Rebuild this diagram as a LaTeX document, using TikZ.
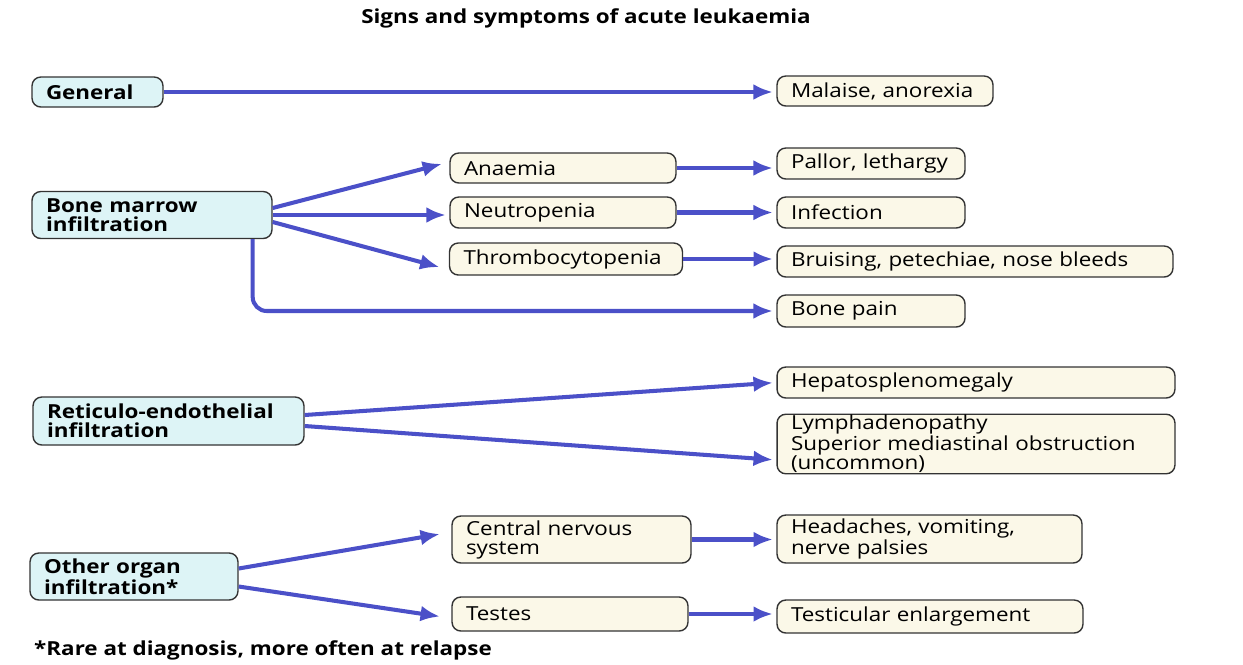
\documentclass[tikz,border=0pt]{standalone}
\usepackage{fontspec}
\setmainfont[FakeStretch=1.16]{Open Sans}
\usepackage{xcolor}
\usetikzlibrary{arrows.meta, calc, positioning}
\definecolor{arrowblue}{HTML}{4B50C8}
\definecolor{causefill}{HTML}{DDF4F6}
\definecolor{findfill}{HTML}{FBF8E8}
\definecolor{boxline}{HTML}{333333}
\newcommand{\boxfont}{\fontsize{11}{10.8}\selectfont}
\tikzset{
  cause/.style={
    rectangle, rounded corners=5pt, draw=boxline, line width=0.8pt,
    fill=causefill, align=left, inner xsep=0.28cm, inner ysep=2pt,
    font=\boxfont\bfseries
  },
  finding/.style={
    rectangle, rounded corners=5pt, draw=boxline, line width=0.8pt,
    fill=findfill, align=left, inner xsep=0.28cm, inner ysep=2pt,
    font=\boxfont
  },
  arrow/.style={
    -{Latex[length=11pt,width=9pt]}, line width=2.3pt, color=arrowblue, shorten >=2pt
  }
}

\begin{document}
\begin{tikzpicture}[x=0.02cm, y=-0.02cm]
\useasboundingbox (0,0) rectangle (1243,664);

% Titre
\node[font=\boxfont\bfseries] (title) at (586,18) {Signs and symptoms of acute leukaemia};

% Causes
\node[cause, text width=2.06cm, minimum height=0.6cm] (general) at (97.5,92) {General};
\node[cause, text width=4.24cm, minimum height=0.94cm] (marrow) at (152,215) {Bone marrow\\infiltration};
\node[cause, text width=4.86cm, minimum height=0.96cm] (reticulo) at (168.5,421) {Reticulo-endothelial\\infiltration};
\node[cause, text width=3.6cm, minimum height=0.94cm] (organ) at (134,576.5) {Other organ\\infiltration*};

% Etapes intermediaires
\node[finding, text width=3.96cm, minimum height=0.6cm] (anaemia) at (563,168) {Anaemia};
\node[finding, text width=3.96cm, minimum height=0.62cm] (neutro) at (563,212.5) {Neutropenia};
\node[finding, text width=4.1cm, minimum height=0.64cm] (thrombo) at (566,259) {Thrombocytopenia};
\node[finding, text width=4.22cm, minimum height=0.94cm] (cns) at (571.5,539.5) {Central nervous\\system};
\node[finding, text width=4.16cm, minimum height=0.68cm] (testes) at (570,614) {Testes};

% Signes
\node[finding, text width=3.76cm, minimum height=0.6cm] (malaise) at (885,91) {Malaise, anorexia};
\node[finding, text width=3.2cm, minimum height=0.62cm] (pallor) at (871,163.5) {Pallor, lethargy};
\node[finding, text width=3.2cm, minimum height=0.62cm] (infection) at (871,212.5) {Infection};
\node[finding, text width=7.36cm, minimum height=0.62cm] (bruising) at (975,261.5) {Bruising, petechiae, nose bleeds};
\node[finding, text width=3.2cm, minimum height=0.64cm] (bonepain) at (871,311) {Bone pain};
\node[finding, text width=7.4cm, minimum height=0.62cm] (hepato) at (976,382.5) {Hepatosplenomegaly};
\node[finding, text width=7.4cm, minimum height=1.16cm, inner ysep=0.5pt] (lymph) at (976,444) {Lymphadenopathy\\Superior mediastinal obstruction\\(uncommon)};
\node[finding, text width=5.54cm, minimum height=0.96cm] (headaches) at (929.5,539) {Headaches, vomiting,\\nerve palsies};
\node[finding, text width=5.56cm, minimum height=0.66cm] (testicular) at (930,616.5) {Testicular enlargement};

% Note
\node[font=\boxfont\bfseries, anchor=west] (note) at (28,650) {*Rare at diagnosis, more often at relapse};

% Fleches
\draw[arrow] (general.east) -- (general.east -| malaise.west);
\draw[arrow] ($(marrow.east)+(0,-7)$) -- ($(anaemia.west)+(-4,-5)$);
\draw[arrow] (marrow.east) -- (marrow.east -| neutro.west);
\draw[arrow] ($(marrow.east)+(0,7)$) -- ($(thrombo.west)+(-6,9)$);
\draw[arrow, rounded corners=8pt] ($(marrow.south east)+(-20,0)$) |- (bonepain.west);
\draw[arrow] (anaemia.east) -- (anaemia.east -| pallor.west);
\draw[arrow] (neutro.east) -- (neutro.east -| infection.west);
\draw[arrow] (thrombo.east) -- (thrombo.east -| bruising.west);
\draw[arrow] ($(reticulo.east)+(0,-6)$) -- (hepato.west);
\draw[arrow] ($(reticulo.east)+(0,5)$) -- ($(lymph.west)+(0,16)$);
\draw[arrow] ($(organ.east)+(0,-8)$) -- ($(cns.west)+(-8,-6)$);
\draw[arrow] ($(organ.east)+(0,10)$) -- ($(testes.west)+(-8,3)$);
\draw[arrow] (cns.east) -- (cns.east -| headaches.west);
\draw[arrow] (testes.east) -- (testes.east -| testicular.west);

\end{tikzpicture}
\end{document}
